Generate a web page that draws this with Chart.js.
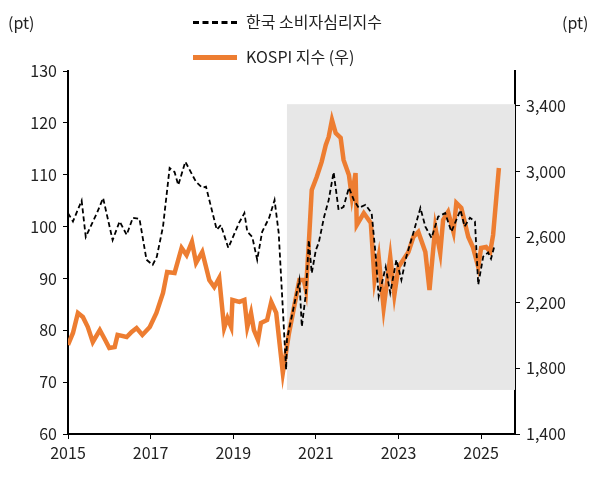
<!DOCTYPE html>
<html><head><meta charset="utf-8">
<script src="https://cdn.jsdelivr.net/npm/chart.js@4"></script>
<style>
body{margin:0;background:#fff;font-family:"Noto Sans CJK KR","Noto Sans",sans-serif;}
#w{position:relative;width:602px;height:477px;}
.t{position:absolute;font-size:16px;color:#222;}
.lg{position:absolute;left:193px;width:44px;height:0;}
</style></head><body>
<div id="w">
<canvas id="c" width="602" height="477"></canvas>
<div class="t" style="left:8px;top:10px">(pt)</div>
<div class="t" style="left:562px;top:10px">(pt)</div>
<div class="lg" style="top:21px;border-top:3px dashed #000"></div>
<div class="t" style="left:246px;top:9px">한국 소비자심리지수</div>
<div class="lg" style="top:55px;border-top:5px solid #ED7D31"></div>
<div class="t" style="left:246px;top:44px">KOSPI 지수 (우)</div>
</div>
<script>
const ccsiX=[2015.0,2015.12,2015.33,2015.43,2015.7,2015.85,2016.08,2016.25,2016.42,2016.57,2016.73,2016.9,2017.05,2017.15,2017.3,2017.46,2017.58,2017.67,2017.84,2018.1,2018.25,2018.34,2018.6,2018.7,2018.88,2019.14,2019.27,2019.34,2019.46,2019.58,2019.7,2019.87,2020.0,2020.1,2020.28,2020.3,2020.6,2020.66,2020.76,2020.83,2020.9,2021.0,2021.07,2021.2,2021.31,2021.43,2021.55,2021.67,2021.8,2021.92,2022.04,2022.2,2022.35,2022.45,2022.52,2022.69,2022.8,2022.95,2023.07,2023.19,2023.36,2023.53,2023.65,2023.8,2023.96,2024.13,2024.28,2024.5,2024.6,2024.73,2024.85,2024.93,2025.05,2025.17,2025.24,2025.33];
const ccsiY=[102.6,101,105,98,102.6,105.5,97.4,101,98.4,101.7,101.5,93.6,92.6,94.2,100,111.3,110.5,108,112.5,108.6,107.5,107.7,99.4,100.3,95.9,100.7,102.6,99,98,93.6,99,101.7,105.1,98.8,72.4,78.2,89.7,80.7,87.2,97.4,91,95.5,96.9,101.9,105.1,110.5,103.2,103.8,107.5,105.1,103.6,104.2,102.6,94.2,86.5,92.2,87.2,93.6,89.7,94.2,98.8,103.6,100,97.8,101.9,102.6,99,103.2,100,101.7,101,88.8,94.2,95,93.8,96.5];
const kospiX=[2015.0,2015.12,2015.24,2015.36,2015.48,2015.6,2015.77,2015.9,2016.0,2016.13,2016.2,2016.42,2016.54,2016.66,2016.8,2016.98,2017.14,2017.3,2017.4,2017.58,2017.75,2017.87,2018.0,2018.1,2018.25,2018.42,2018.54,2018.66,2018.78,2018.86,2018.95,2018.98,2019.15,2019.27,2019.34,2019.43,2019.5,2019.6,2019.67,2019.82,2019.92,2020.04,2020.2,2020.35,2020.6,2020.71,2020.76,2020.83,2020.9,2021.02,2021.14,2021.24,2021.31,2021.39,2021.48,2021.6,2021.67,2021.8,2021.87,2021.96,2021.99,2022.16,2022.33,2022.42,2022.52,2022.64,2022.8,2022.9,2023.0,2023.24,2023.36,2023.48,2023.65,2023.75,2023.89,2024.01,2024.08,2024.2,2024.33,2024.4,2024.52,2024.69,2024.8,2024.93,2025.0,2025.12,2025.22,2025.29,2025.43];
const kospiY=[1943,2016,2138,2113,2052,1961,2034,1973,1924,1930,2004,1991,2022,2046,2004,2052,2138,2260,2388,2382,2534,2491,2571,2443,2510,2339,2296,2351,2046,2107,2052,2217,2205,2217,2052,2138,2034,1973,2077,2095,2205,2138,1772,2016,2339,2339,2278,2565,2888,2967,3059,3162,3211,3315,3235,3205,3071,2979,2845,2991,2674,2747,2686,2339,2479,2168,2479,2248,2418,2510,2601,2632,2510,2278,2662,2504,2705,2754,2632,2808,2778,2601,2540,2418,2534,2540,2510,2613,3022];
const xTicks=[2015,2017,2019,2021,2023,2025];
const shade={x0:2020.3,x1:2025.82,y0:68.5,y1:123.6};
const pts=(xs,ys)=>xs.map((x,i)=>({x,y:ys[i]}));
const shadePlugin={id:'shade',beforeDatasetsDraw(ch){const {ctx,scales:{x,y}}=ch;ctx.save();ctx.fillStyle='#E7E7E7';
const l=x.getPixelForValue(shade.x0),r=x.getPixelForValue(shade.x1),t=y.getPixelForValue(shade.y1),b=y.getPixelForValue(shade.y0);ctx.fillRect(l,t,r-l,b-t);ctx.restore();}};
const font={family:'"Noto Sans CJK KR","Noto Sans",sans-serif',size:16};
new Chart(document.getElementById('c'),{type:'line',
data:{datasets:[
{data:pts(kospiX,kospiY),yAxisID:'y2',borderColor:'#ED7D31',borderWidth:4.5,pointRadius:0,tension:0,order:2},
{data:pts(ccsiX,ccsiY),yAxisID:'y',borderColor:'#000',borderWidth:1.8,borderDash:[5,3],pointRadius:0,tension:0,order:1}
]},
plugins:[shadePlugin],
options:{responsive:false,animation:false,layout:{padding:{top:71,left:0,right:0,bottom:0}},
plugins:{legend:{display:false},tooltip:{enabled:false}},
scales:{
x:{type:'linear',min:2015,max:2025.82,afterBuildTicks(s){s.ticks=xTicks.map(v=>({value:v}));},
ticks:{font,color:'#222',callback:v=>String(v),maxRotation:0,padding:4},
grid:{display:true,drawOnChartArea:false,tickLength:5,color:'#000'},border:{color:'#000',width:2},afterFit(s){s.height=43;}},
y:{min:60,max:130,ticks:{stepSize:10,font,color:'#222',padding:6},grid:{drawOnChartArea:false,tickLength:5,color:'#000'},border:{color:'#000',width:2},afterFit(s){s.width=68;}},
y2:{position:'right',min:1400,max:3613,afterBuildTicks(s){s.ticks=[1400,1800,2200,2600,3000,3400].map(v=>({value:v}));},
ticks:{font,color:'#222',padding:6,callback:v=>v.toLocaleString('en-US')},grid:{drawOnChartArea:false,tickLength:5,color:'#000'},border:{color:'#000',width:2},afterFit(s){s.width=87;}}
}}});
</script></body></html>
